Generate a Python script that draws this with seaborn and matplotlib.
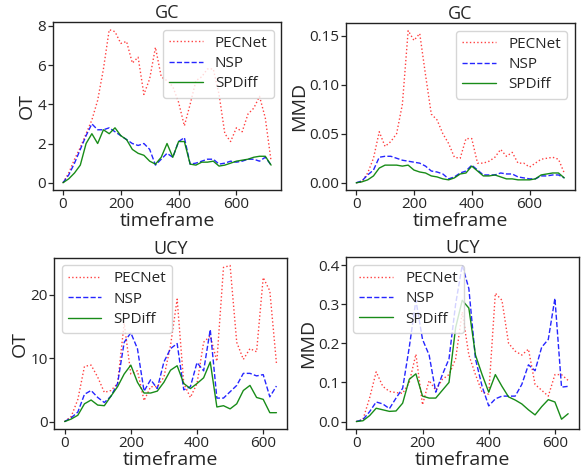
import numpy as np
import pandas as pd
import seaborn as sns
import matplotlib.pyplot as plt

# --- DATOS ---
gc_frames = list(range(0, 721, 20))
ucy_frames = list(range(0, 641, 20))

gc_ot_pecnet = [0.0, 0.5, 1.2, 1.8, 2.5, 3.2, 4.2, 5.8, 7.8, 7.7, 7.1, 7.2, 6.1, 6.4, 4.5, 5.3,
                6.9, 5.4, 5.2, 4.9, 4.1, 2.9, 4.0, 5.2, 5.4, 5.8, 5.8, 4.5, 2.5, 2.1, 2.8, 2.6,
                3.5, 3.8, 4.4, 3.3, 1.1]
gc_ot_nsp = [0.0, 0.4, 1.0, 1.7, 2.4, 3.0, 2.7, 2.7, 2.8, 2.6, 2.4, 2.2, 2.0, 1.9, 2.0, 1.7,
             0.9, 1.2, 1.5, 1.3, 2.1, 2.3, 0.95, 1.0, 1.1, 1.2, 1.2, 0.95, 1.0, 1.1, 1.05, 1.1,
             1.2, 1.2, 1.1, 1.3, 0.9]
gc_ot_spdiff = [0.0, 0.2, 0.5, 0.9, 2.0, 2.5, 2.0, 2.7, 2.5, 2.8, 2.4, 2.2, 1.7, 1.5, 1.4, 1.1,
                0.95, 1.3, 2.0, 1.3, 2.1, 2.1, 0.95, 0.9, 1.05, 1.05, 1.1, 0.85, 0.9, 1.0, 1.1, 1.15,
                1.2, 1.3, 1.35, 1.35, 0.9]

gc_mmd_pecnet = [0.0, 0.001, 0.01, 0.025, 0.052, 0.037, 0.042, 0.05, 0.08, 0.155, 0.145, 0.152,
                 0.11, 0.07, 0.064, 0.05, 0.04, 0.026, 0.025, 0.045, 0.045, 0.02, 0.02, 0.022,
                 0.026, 0.034, 0.027, 0.031, 0.02, 0.02, 0.016, 0.02, 0.024, 0.025, 0.026, 0.024, 0.01]
gc_mmd_nsp = [0.0, 0.002, 0.008, 0.013, 0.026, 0.027, 0.027, 0.025, 0.023, 0.022, 0.021, 0.02,
              0.017, 0.012, 0.011, 0.009, 0.004, 0.006, 0.01, 0.012, 0.018, 0.013, 0.008, 0.008,
              0.008, 0.01, 0.009, 0.009, 0.006, 0.005, 0.004, 0.004, 0.007, 0.007, 0.008, 0.008, 0.005]
gc_mmd_spdiff = [0.0, 0.001, 0.003, 0.007, 0.015, 0.018, 0.018, 0.018, 0.017, 0.018, 0.013, 0.011,
                 0.01, 0.007, 0.006, 0.004, 0.003, 0.005, 0.009, 0.01, 0.017, 0.012, 0.007, 0.007,
                 0.008, 0.006, 0.004, 0.004, 0.003, 0.003, 0.003, 0.004, 0.008, 0.009, 0.01, 0.01, 0.005]

ucy_ot_pecnet = [0.0, 0.8, 3.5, 8.7, 8.9, 7.0, 4.6, 4.9, 6.0, 15.5, 7.5, 8.0, 3.3, 5.5, 5.5, 7.0,
                 12.0, 19.3, 6.0, 3.8, 6.0, 12.5, 13.5, 9.5, 24.3, 24.6, 12.5, 9.8, 11.5, 11.0,
                 22.7, 20.6, 9.2]
ucy_ot_nsp = [0.0, 0.6, 1.5, 4.3, 4.9, 3.8, 3.0, 4.0, 6.0, 12.5, 14.0, 11.5, 4.8, 6.6, 5.2, 9.4,
              11.5, 12.3, 5.0, 5.5, 9.3, 8.0, 14.5, 3.7, 3.7, 4.7, 5.7, 7.6, 7.6, 7.2, 7.4, 3.9, 5.6]
ucy_ot_spdiff = [0.0, 0.4, 1.0, 2.8, 3.4, 2.6, 2.5, 4.0, 5.5, 7.5, 8.9, 6.2, 4.5, 4.5, 4.8, 6.2,
                 8.1, 8.8, 6.0, 5.2, 6.0, 6.9, 9.4, 2.3, 2.5, 2.0, 2.8, 4.9, 5.7, 3.8, 3.5, 1.4, 1.4]

ucy_mmd_pecnet = [0.0, 0.005, 0.06, 0.127, 0.09, 0.077, 0.074, 0.072, 0.1, 0.172, 0.043, 0.105,
                  0.08, 0.108, 0.12, 0.16, 0.28, 0.17, 0.12, 0.075, 0.07, 0.328, 0.31, 0.2, 0.18,
                  0.17, 0.185, 0.095, 0.08, 0.065, 0.12, 0.12, 0.105]
ucy_mmd_nsp = [0.0, 0.005, 0.025, 0.05, 0.045, 0.033, 0.06, 0.085, 0.19, 0.31, 0.21, 0.17, 0.075,
               0.12, 0.16, 0.3, 0.4, 0.34, 0.16, 0.09, 0.04, 0.058, 0.065, 0.065, 0.065, 0.095,
               0.145, 0.13, 0.19, 0.21, 0.315, 0.088, 0.09]
ucy_mmd_spdiff = [0.0, 0.002, 0.015, 0.034, 0.03, 0.026, 0.027, 0.047, 0.108, 0.122, 0.065, 0.06,
                  0.06, 0.08, 0.1, 0.24, 0.31, 0.29, 0.17, 0.12, 0.075, 0.12, 0.09, 0.063, 0.055,
                  0.045, 0.03, 0.017, 0.038, 0.056, 0.05, 0.006, 0.02]

methods = ['PECNet', 'NSP', 'SPDiff']

# --- ESTILO ---
sns.set_style('ticks')
plt.rcParams['font.family'] = ['Open Sans', 'DejaVu Sans']
plt.rcParams['axes.edgecolor'] = '#222222'
plt.rcParams['axes.linewidth'] = 1.0

styles = {
    'PECNet': dict(color='red', linestyle=':', alpha=0.75),
    'NSP': dict(color='blue', linestyle='--', alpha=0.85),
    'SPDiff': dict(color='green', linestyle='-', alpha=0.9),
}


def draw_panel(ax, frames, series, title, ylabel, legend_loc):
    for name, vals in zip(methods, series):
        df = pd.DataFrame({'timeframe': frames, 'value': vals})
        sns.lineplot(data=df, x='timeframe', y='value', ax=ax, label=name,
                     linewidth=1.0, **styles[name])
    ax.set_title(title, fontsize=13, pad=3)
    ax.set_xlabel('timeframe', fontsize=14, labelpad=0)
    ax.set_ylabel(ylabel, fontsize=14, labelpad=1)
    ax.tick_params(labelsize=11, length=3.5, width=0.9, pad=1)
    ax.legend(loc=legend_loc, fontsize=11, handlelength=2.2, borderpad=0.4,
              labelspacing=0.35, handletextpad=0.8)


fig = plt.figure(figsize=(5.84, 4.69), dpi=100)
ax1 = fig.add_axes([0.090, 0.594, 0.392, 0.359])
ax2 = fig.add_axes([0.592, 0.594, 0.392, 0.357])
ax3 = fig.add_axes([0.0925, 0.0845, 0.399, 0.366])
ax4 = fig.add_axes([0.592, 0.0845, 0.399, 0.367])

draw_panel(ax1, gc_frames, [gc_ot_pecnet, gc_ot_nsp, gc_ot_spdiff], 'GC', 'OT', 'upper right')
draw_panel(ax2, gc_frames, [gc_mmd_pecnet, gc_mmd_nsp, gc_mmd_spdiff], 'GC', 'MMD', 'upper right')
draw_panel(ax3, ucy_frames, [ucy_ot_pecnet, ucy_ot_nsp, ucy_ot_spdiff], 'UCY', 'OT', 'upper left')
draw_panel(ax4, ucy_frames, [ucy_mmd_pecnet, ucy_mmd_nsp, ucy_mmd_spdiff], 'UCY', 'MMD', 'upper left')

ax1.set_yticks([0, 2, 4, 6, 8])
ax2.set_yticks([0.0, 0.05, 0.10, 0.15])
ax2.set_yticklabels(['0.00', '0.05', '0.10', '0.15'])
ax3.set_yticks([0, 10, 20])
ax4.set_yticks([0.0, 0.1, 0.2, 0.3, 0.4])
for ax in (ax1, ax2, ax3, ax4):
    ax.set_xticks([0, 200, 400, 600])

fig.savefig('out.png', dpi=100)
